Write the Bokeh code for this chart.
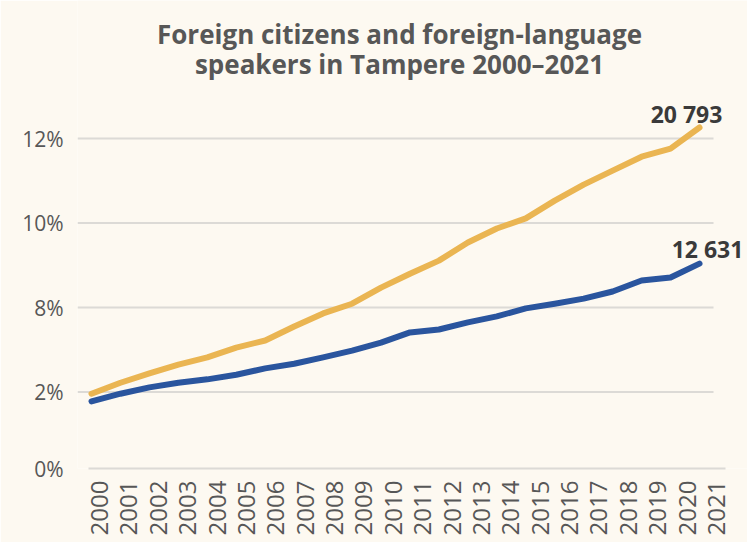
import math
from bokeh.plotting import figure
from bokeh.models import FixedTicker, Range1d, LinearAxis
from bokeh.core.properties import value
from bokeh.embed import file_html
from bokeh.resources import INLINE

# ---- data (y in the chart's own plotting units) ----
years = list(range(2000, 2022))
foreign_language = [5.96, 6.22, 6.44, 6.65, 6.82, 7.05, 7.22, 7.55, 7.86, 8.09, 8.47,
                    8.80, 9.11, 9.54, 9.87, 10.11, 10.53, 10.91, 11.24, 11.57, 11.76, 12.26]
foreign_citizens = [5.78, 5.96, 6.11, 6.22, 6.30, 6.41, 6.56, 6.67, 6.82, 6.98, 7.17,
                    7.41, 7.48, 7.65, 7.79, 7.98, 8.09, 8.21, 8.38, 8.64, 8.71, 9.04]
end_labels = ["20 793", "12 631"]
y_tick_values = [4.19, 6, 8, 10, 12]
y_tick_labels = ["0%", "2%", "8%", "10%", "12%"]
title_lines = ["Foreign citizens and foreign-language",
               "speakers in Tampere 2000\u20132021"]

# ---- style ----
BG = "#FDF9F1"
YELLOW = "#EAB552"
BLUE = "#2A559E"
GRID = "#DCDAD6"
TEXT = "#575757"
DARK = "#3A3A3A"
FONT = "Open Sans"

W, H = 747, 542
LEFT, BOTTOM = 77, 74            # borders around the plotting frame (px)
FRAME_L, FRAME_R = LEFT, W
FRAME_T, FRAME_B = 0, H - BOTTOM

# horizontal layout: points spaced PX_YR apart, first year drawn at px 91
PX_YR = 28.952
FIRST_PX = 91
def xd(px):
    return years[0] + (px - FIRST_PX) / PX_YR

# year labels are spread slightly wider than the points (as in the original)
LAB_PX_YR = 29.381
LAB_FIRST_PX = 99
def xl(px):
    return years[0] + (px - LAB_FIRST_PX) / LAB_PX_YR

# vertical layout: bottom tick at px FRAME_B, PX_UNIT px per unit
PX_UNIT = 42.25
def yd(py):
    return y_tick_values[0] + (FRAME_B - py) / PX_UNIT

p = figure(width=W, height=H,
           x_range=Range1d(xd(FRAME_L), xd(FRAME_R)),
           y_range=Range1d(yd(FRAME_B), yd(FRAME_T)),
           output_backend="svg", toolbar_location=None, x_axis_location=None)
p.extra_x_ranges = {"labels": Range1d(xl(FRAME_L), xl(FRAME_R))}

p.background_fill_color = BG
p.border_fill_color = BG
p.outline_line_color = None
p.min_border_left = LEFT
p.min_border_right = 0
p.min_border_bottom = BOTTOM
p.min_border_top = 0

# x axis (year labels)
xaxis = LinearAxis(x_range_name="labels", ticker=FixedTicker(ticks=years))
xaxis.bounds = (xl(88), xl(725))
xaxis.major_label_orientation = math.pi / 2
xaxis.major_label_text_font = FONT
xaxis.major_label_text_font_size = "24px"
xaxis.major_label_text_color = TEXT
xaxis.major_label_standoff = 12
xaxis.major_tick_in = 0
xaxis.major_tick_out = 0
xaxis.minor_tick_in = 0
xaxis.minor_tick_out = 0
xaxis.axis_line_color = GRID
xaxis.axis_line_width = 2
p.add_layout(xaxis, "below")

# y axis
p.yaxis.ticker = FixedTicker(ticks=y_tick_values)
p.yaxis.major_label_overrides = dict(zip(y_tick_values, y_tick_labels))
p.yaxis.major_label_text_font = FONT
p.yaxis.major_label_text_font_size = "21px"
p.yaxis.major_label_text_color = TEXT
p.yaxis.major_label_standoff = 14
p.yaxis.axis_line_color = None
p.yaxis.major_tick_in = 0
p.yaxis.major_tick_out = 0
p.yaxis.minor_tick_in = 0
p.yaxis.minor_tick_out = 0

p.xgrid.grid_line_color = None
p.ygrid.grid_line_color = None

# horizontal grid lines (shorter than the frame, as in the original)
grid_y = y_tick_values[1:]
p.segment(x0=[xd(77)] * len(grid_y), y0=grid_y, x1=[xd(713)] * len(grid_y), y1=grid_y,
          line_color=GRID, line_width=2)

# lines
p.line(years, foreign_language, line_color=YELLOW, line_width=6,
       line_cap="round", line_join="round")
p.line(years, foreign_citizens, line_color=BLUE, line_width=6,
       line_cap="round", line_join="round")

# end labels
p.text(x=[years[-1]], y=[foreign_language[-1]], text=[end_labels[0]],
       x_offset=-13, y_offset=-14, text_align="center", text_baseline="alphabetic",
       text_font=value(FONT), text_font_size="23px", text_font_style="bold",
       text_color=DARK)
p.text(x=[years[-1]], y=[foreign_citizens[-1]], text=[end_labels[1]],
       x_offset=8, y_offset=-15, text_align="center", text_baseline="alphabetic",
       text_font=value(FONT), text_font_size="23px", text_font_style="bold",
       text_color=DARK)

# title (two centred lines)
title_cx = xd(399)
for line_text, base_py in zip(title_lines, [33, 63]):
    p.text(x=[title_cx], y=[yd(base_py)], text=[line_text],
           text_align="center", text_baseline="alphabetic",
           text_font=value(FONT), text_font_size="26px", text_font_style="bold",
           text_color=TEXT)

open("out.html", "w").write(file_html(p, INLINE))
